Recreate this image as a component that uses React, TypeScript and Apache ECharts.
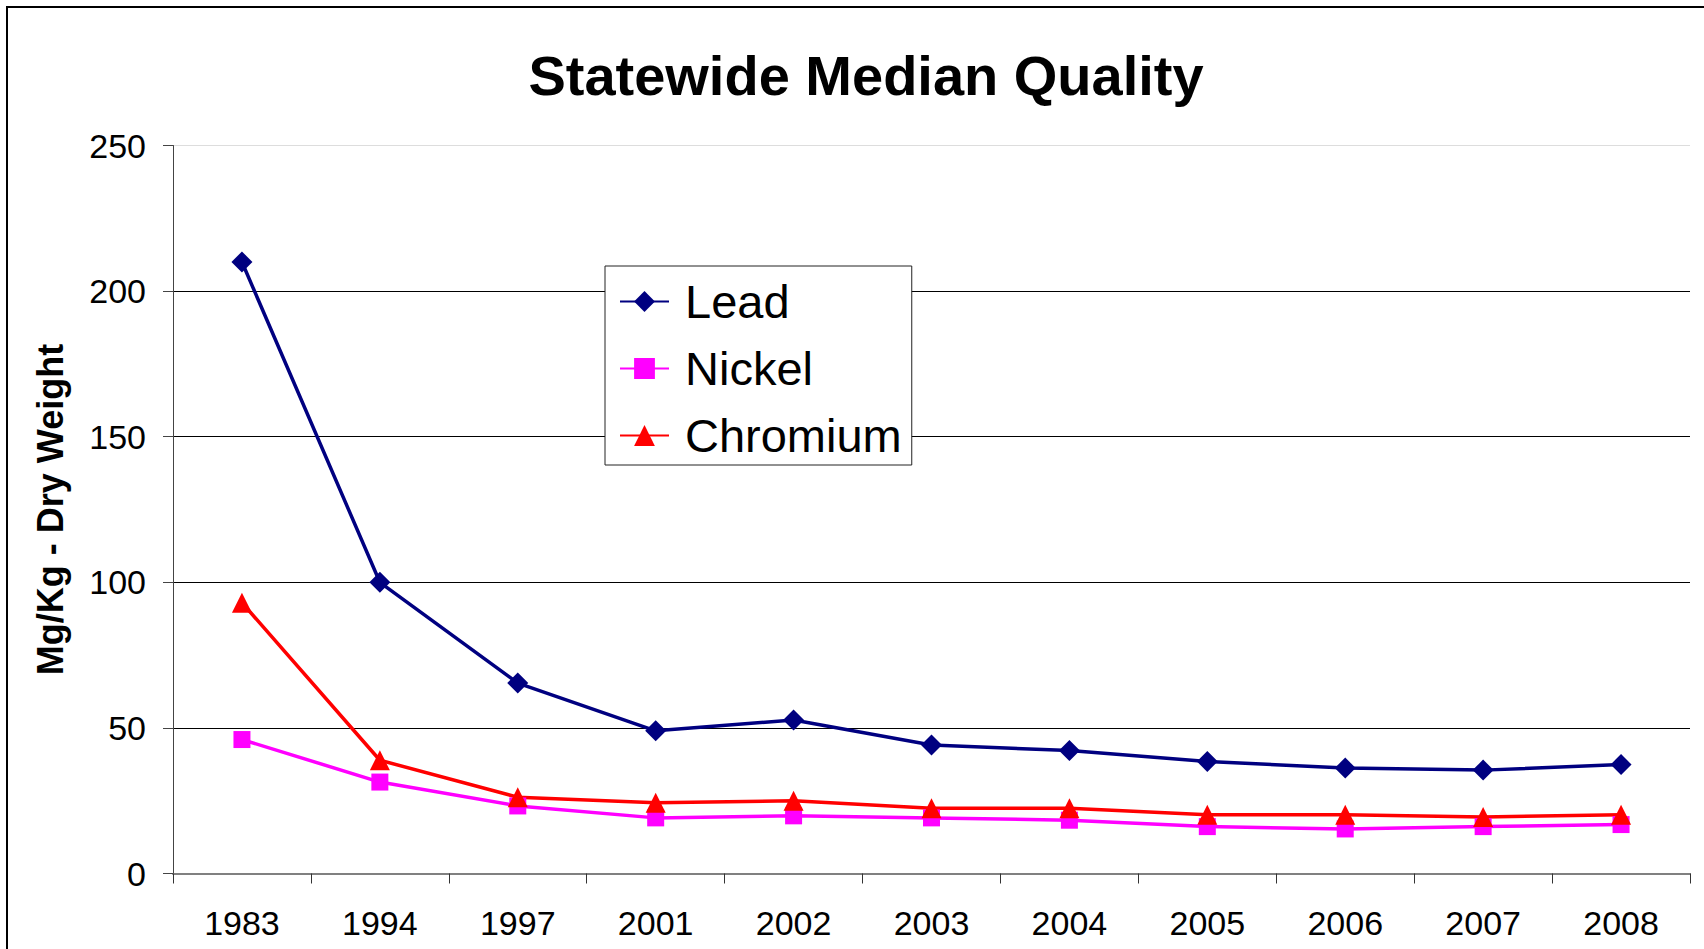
import React, { useEffect, useRef } from "react";
import * as echarts from "echarts";

const years = ["1983", "1994", "1997", "2001", "2002", "2003", "2004", "2005", "2006", "2007", "2008"];
const lead = [210, 100, 65.4, 49, 52.7, 44.1, 42.2, 38.5, 36.2, 35.5, 37.4];
const nickel = [46, 31.4, 23.2, 19.1, 19.8, 19.1, 18.3, 16.1, 15.3, 16.1, 16.8];
const chromium = [93, 38.9, 26.2, 24.3, 25, 22.4, 22.4, 20.2, 20.2, 19.4, 20.2];
const yTicks = [0, 50, 100, 150, 200, 250];

const FONT = "'Liberation Sans', Arial, sans-serif";

export default function App() {
  const ref = useRef<HTMLDivElement>(null);
  useEffect(() => {
    if (!ref.current) return;
    const chart = echarts.init(ref.current, null, { renderer: "svg" });
    const mk = (name: string, data: number[], color: string, symbol: string, size: number | number[]) => ({
      name,
      type: "line",
      data,
      symbol,
      symbolSize: size,
      showAllSymbol: true,
      lineStyle: { color, width: 3.5 },
      itemStyle: { color },
    });
    chart.setOption({
      animation: false,
      backgroundColor: "#fff",
      textStyle: { fontFamily: FONT },
      title: {
        text: "Statewide Median Quality",
        left: 861,
        top: 42,
        textAlign: "center",
        textStyle: { fontSize: 56, fontWeight: "bold", color: "#000", fontFamily: FONT },
      },
      graphic: [
        {
          type: "rect",
          shape: { x: 7, y: 7, width: 1720, height: 960 },
          style: { fill: "none", stroke: "#000", lineWidth: 2 },
          silent: true,
          z: 100,
        },
      ],
      legend: {
        orient: "vertical",
        left: 605,
        top: 266,
        padding: [12, 10, 6, 14],
        itemWidth: 49,
        itemHeight: 26,
        itemGap: 20,
        borderColor: "#222",
        borderWidth: 1,
        backgroundColor: "#fff",
        z: 10,
        textStyle: { fontSize: 47, color: "#000", fontFamily: FONT, padding: [0, 0, 0, 11] },
        data: ["Lead", "Nickel", "Chromium"],
      },
      grid: { left: 173, top: 145.5, right: 14, bottom: 75.5 },
      xAxis: {
        type: "category",
        data: years,
        boundaryGap: true,
        axisLine: { lineStyle: { color: "#808080", width: 2 } },
        axisTick: { show: true, length: 10, lineStyle: { color: "#333", width: 1 } },
        axisLabel: { fontSize: 34, color: "#000", margin: 32, fontFamily: FONT },
        splitLine: { show: false },
      },
      yAxis: {
        type: "value",
        min: yTicks[0],
        max: yTicks[yTicks.length - 1],
        interval: 50,
        name: "Mg/Kg - Dry Weight",
        nameLocation: "middle",
        nameGap: 105,
        nameTextStyle: { fontSize: 36, fontWeight: "bold", color: "#000", fontFamily: FONT },
        axisLine: { show: true, lineStyle: { color: "#444", width: 1 } },
        axisTick: { show: true, length: 10, lineStyle: { color: "#444", width: 1 } },
        axisLabel: { fontSize: 34, color: "#000", margin: 27, fontFamily: FONT },
        splitLine: {
          show: true,
          lineStyle: { color: ["#000", "#000", "#000", "#000", "#000", "#ddd"], width: 1 },
        },
      },
      series: [
        mk("Lead", lead, "#000080", "diamond", 21),
        mk("Nickel", nickel, "#FF00FF", "rect", 17),
        mk("Chromium", chromium, "#FF0000", "triangle", 20),
      ],
    });
    return () => chart.dispose();
  }, []);
  return <div ref={ref} style={{ position: "fixed", left: 0, top: 0, width: 1704, height: 949 }} />;
}
